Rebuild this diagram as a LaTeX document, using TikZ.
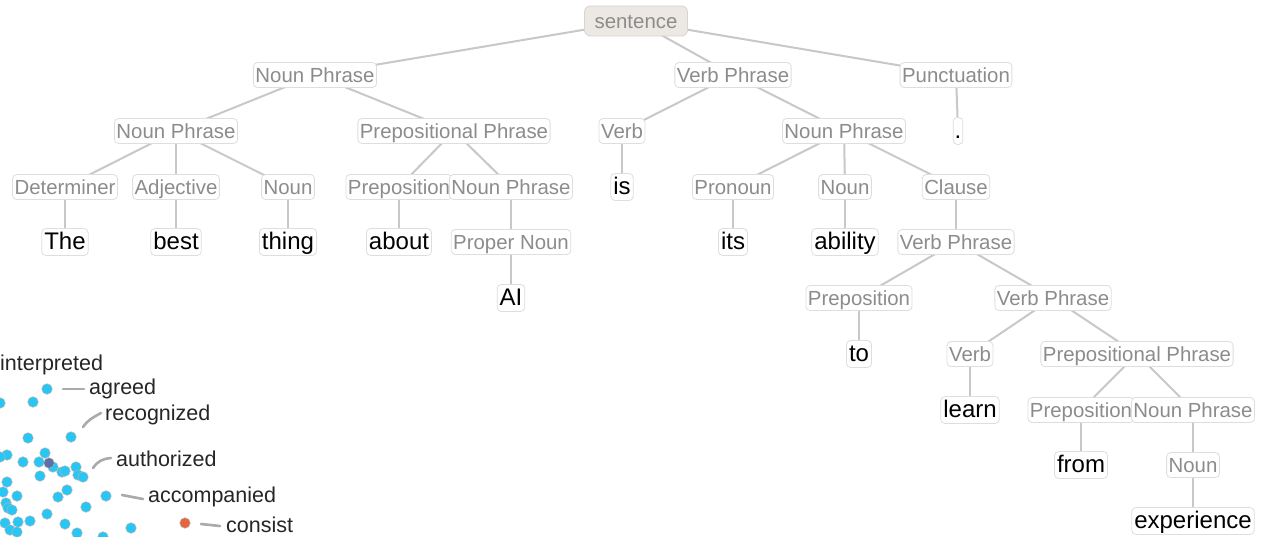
\documentclass[tikz,border=0pt]{standalone}
\usepackage{fontspec}
\setmainfont{Liberation Sans}
\usetikzlibrary{backgrounds}
\definecolor{edgegray}{RGB}{200,200,200}
\definecolor{boxline}{RGB}{222,222,222}
\definecolor{labelgray}{RGB}{140,140,140}
\definecolor{rootfill}{RGB}{236,232,228}
\definecolor{rootline}{RGB}{218,212,206}
\definecolor{dotcyan}{RGB}{40,198,244}
\definecolor{dotdark}{RGB}{92,112,170}
\definecolor{dotorange}{RGB}{232,100,60}
\definecolor{leadergray}{RGB}{170,170,170}
\tikzset{
  tag/.style={draw=boxline, line width=0.8pt, fill=white, rounded corners=4pt,
    text=labelgray, font=\fontsize{20.4}{22}\selectfont,
    inner xsep=2pt, inner ysep=3.5pt, text height=16pt, text depth=2pt},
  word/.style={draw=boxline, line width=0.8pt, fill=white, rounded corners=4pt,
    text=black, font=\fontsize{24}{26}\selectfont,
    inner xsep=2.5pt, inner ysep=2.2pt, text height=19pt, text depth=3.5pt},
  rootbox/.style={draw=rootline, line width=0.8pt, fill=rootfill, rounded corners=6pt,
    text=labelgray, font=\fontsize{20.4}{22}\selectfont,
    minimum width=103pt, minimum height=30pt, text height=16pt, text depth=2pt},
  branch/.style={draw=edgegray, line width=2pt},
  pt/.style={circle, inner sep=0pt, minimum size=10.5pt, fill=dotcyan,
    draw=gray!60, line width=0.5pt},
  ptdark/.style={pt, fill=dotdark},
  ptorange/.style={pt, fill=dotorange},
  lbl/.style={anchor=west, text=black!85, font=\fontsize{21.5}{23}\selectfont, inner sep=0pt},
  leader/.style={draw=leadergray, line width=2.6pt, line cap=round}
}
\begin{document}
\begin{tikzpicture}[x=1pt, y=-1pt]
\useasboundingbox (0,0) rectangle (1263,536);
\clip (0,0) rectangle (1263,536);

% ---- parse tree ----
\node[rootbox] (s) at (636,21) {sentence};

\node[tag] (np1) at (315,75) {Noun Phrase};
\node[tag] (vp1) at (733,75) {Verb Phrase};
\node[tag] (pu1) at (956,75) {Punctuation};

\node[tag] (np2) at (176,131) {Noun Phrase};
\node[tag] (pp2) at (454,131) {Prepositional Phrase};
\node[tag] (vb2) at (622,131) {Verb};
\node[tag] (nq2) at (844,131) {Noun Phrase};
\node[word, inner xsep=1.5pt] (w-dot) at (958,131) {.};

\node[tag] (det3) at (65,187) {Determiner};
\node[tag] (adj3) at (176,187) {Adjective};
\node[tag] (nn3) at (288,187) {Noun};
\node[tag] (pr3) at (399,187) {Preposition};
\node[tag] (np3) at (511,187) {Noun Phrase};
\node[word] (w-is) at (622,187) {is};
\node[tag] (pn3) at (733,187) {Pronoun};
\node[tag] (nm3) at (845,187) {Noun};
\node[tag] (cl3) at (956,187) {Clause};

\node[word] (w-the) at (65,242) {The};
\node[word] (w-best) at (176,242) {best};
\node[word] (w-thing) at (288,242) {thing};
\node[word] (w-about) at (399,242) {about};
\node[tag] (prn4) at (511,242) {Proper Noun};
\node[word] (w-its) at (733,242) {its};
\node[word] (w-ability) at (845,242) {ability};
\node[tag] (vp4) at (956,242) {Verb Phrase};

\node[word] (w-ai) at (511,298) {AI};
\node[tag] (pr5) at (859,298) {Preposition};
\node[tag] (vp5) at (1053,298) {Verb Phrase};

\node[word] (w-to) at (859,354) {to};
\node[tag] (vb6) at (970,354) {Verb};
\node[tag] (pp6) at (1137,354) {Prepositional Phrase};

\node[word] (w-learn) at (970,410) {learn};
\node[tag] (pr7) at (1081,410) {Preposition};
\node[tag] (np7) at (1193,410) {Noun Phrase};

\node[word] (w-from) at (1081,465) {from};
\node[tag] (nn8) at (1193,465) {Noun};

\node[word] (w-exp) at (1193,521) {experience};

% ---- scatter of word embeddings ----
\foreach \px/\py [count=\i] in {
  47/389, 33/402, 0/403, 28/438, 71/437, 45/453, 7/455, 0/457,
  23/462, 39/462, 53/467, 62/472, 65/471, 76/467, 78/475, 83/477,
  40/476, 7/482, 3/492, 17/496, 67/490, 58/497, 106/496, 6/503,
  8/508, 12/510, 86/507, 47/514, 5/523, 18/522, 30/521, 65/524,
  131/528, 10/530, 17/532, 77/533, 103/537}
  \node[pt] (d\i) at (\px,\py) {};
\node[ptdark] (ddark) at (49,463) {};
\node[ptorange] (dcon) at (185,523) {};

\node[lbl] (l-int) at (0,365) {interpreted};
\node[lbl] (l-agr) at (89,389) {agreed};
\node[lbl] (l-rec) at (105,415) {recognized};
\node[lbl] (l-aut) at (116,459) {authorized};
\node[lbl] (l-acc) at (148,497) {accompanied};
\node[lbl] (l-con) at (226,525) {consist};

\coordinate (k-agr) at (63,389);
\coordinate (k-rec) at (83,427);
\coordinate (k-aut) at (93,468);
\coordinate (k-acc) at (122,495);
\coordinate (k-con) at (201,524);

\draw[leader] (k-agr) -- ([xshift=-5pt]l-agr.west);
\draw[leader] (k-rec) .. controls (88,420) and (92,418) .. ([xshift=-4pt,yshift=2pt]l-rec.west);
\draw[leader] (k-aut) .. controls (98,461) and (102,459) .. ([xshift=-5pt,yshift=1pt]l-aut.west);
\draw[leader] (k-acc) -- ([xshift=-5pt,yshift=-2pt]l-acc.west);
\draw[leader] (k-con) -- ([xshift=-6pt,yshift=-1pt]l-con.west);

% ---- branches, behind the boxes ----
\begin{scope}[on background layer]
  \fill[white] (0,0) rectangle (1263,536);
  \foreach \a/\b in {s/np1, s/vp1, s/pu1,
      np1/np2, np1/pp2, vp1/vb2, vp1/nq2, pu1/w-dot,
      np2/det3, np2/adj3, np2/nn3, pp2/pr3, pp2/np3, vb2/w-is,
      nq2/pn3, nq2/nm3, nq2/cl3,
      det3/w-the, adj3/w-best, nn3/w-thing, pr3/w-about, np3/prn4,
      prn4/w-ai, pn3/w-its, nm3/w-ability, cl3/vp4,
      vp4/pr5, vp4/vp5, pr5/w-to, vp5/vb6, vp5/pp6,
      vb6/w-learn, pp6/pr7, pp6/np7, pr7/w-from, np7/nn8, nn8/w-exp}
    \draw[branch] (\a.center) -- (\b.center);
\end{scope}
\end{tikzpicture}
\end{document}
